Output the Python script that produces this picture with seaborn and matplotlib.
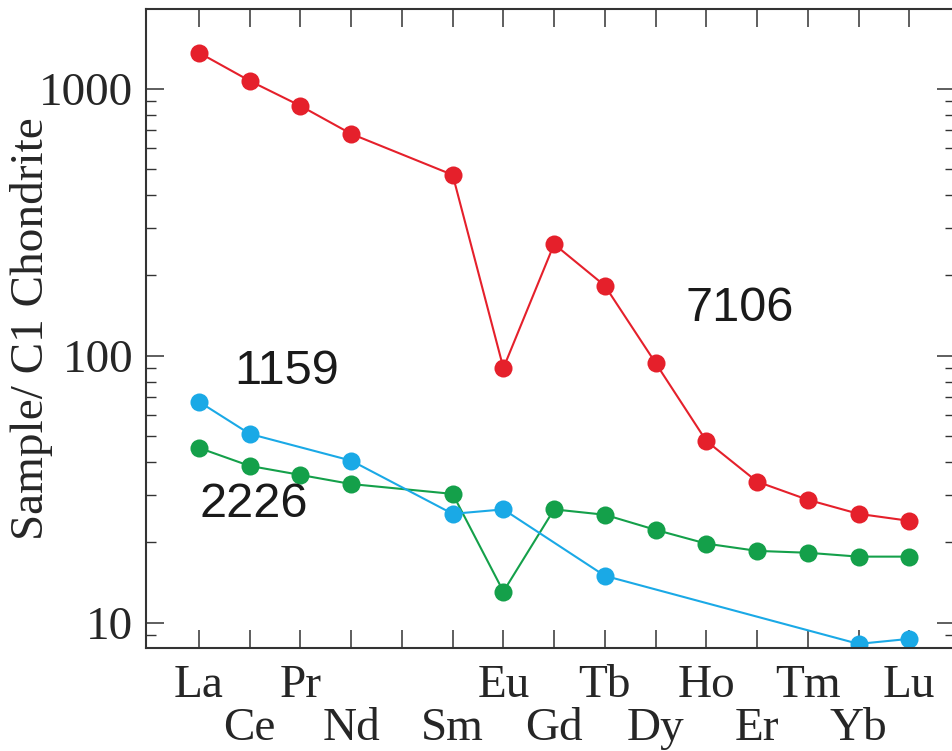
import numpy as np
import pandas as pd
import matplotlib
matplotlib.use('Agg')
import matplotlib.pyplot as plt
from matplotlib.ticker import LogLocator, NullFormatter, FixedLocator, FixedFormatter
import seaborn as sns

# REE positions (Pm left out but keeps its slot)
elements = ['La', 'Ce', 'Pr', 'Nd', 'Pm', 'Sm', 'Eu', 'Gd', 'Tb', 'Dy', 'Ho', 'Er', 'Tm', 'Yb', 'Lu']

# chondrite-normalised values (None = not plotted)
s7106 = [1365, 1071, 863, 678, None, 476, 90, 262, 183, 94, 48, 33.8, 28.9, 25.6, 24.1]
s2226 = [45.2, 38.7, 35.8, 33.1, None, 30.4, 13.1, 26.6, 25.4, 22.3, 19.8, 18.6, 18.3, 17.7, 17.7]
s1159 = [67.3, 51.0, None, 40.5, None, 25.6, 26.6, None, 15.0, None, None, None, None, 8.34, 8.71]

sample_names = ['7106', '2226', '1159']
sample_colors = ['#e5202b', '#14a04a', '#1aa9e6']

# label positions (x in element slots, y in data units)
label_x = [10.65, 1.08, 1.72]
label_y = [150, 27.7, 87]

rows = []
for name, vals in zip(sample_names, [s7106, s2226, s1159]):
    for i, v in enumerate(vals):
        if v is not None:
            rows.append({'pos': i, 'value': v, 'sample': name})
df = pd.DataFrame(rows)

sns.set_style('ticks')
plt.rcParams['font.family'] = ['Liberation Serif', 'DejaVu Serif']

fig = plt.figure(figsize=(9.53, 7.51), dpi=100)
ax = fig.add_axes([146 / 953, 1 - 648 / 751, 1 - 146 / 953 + 0.002, (648 - 9) / 751])

sns.lineplot(data=df, x='pos', y='value', hue='sample', hue_order=sample_names,
             palette=sample_colors, marker='o', markersize=13, markeredgewidth=0,
             linewidth=1.5, legend=False, ax=ax, sort=True)

ax.set_yscale('log')
ax.set_ylim(8.05, 1990)
ax.set_xlim(-1.045, 14.9)

ax.yaxis.set_minor_locator(LogLocator(base=10, subs=np.arange(2, 10), numticks=10))
ax.yaxis.set_minor_formatter(NullFormatter())
ax.set_yticks([10, 100, 1000])
ax.set_yticklabels(['10', '100', '1000'])

# upper row of element names on even slots, lower row on odd slots
even = list(range(0, len(elements), 2))
odd = list(range(1, len(elements), 2))
ax.xaxis.set_major_locator(FixedLocator(even))
ax.xaxis.set_major_formatter(FixedFormatter(['' if elements[i] == 'Pm' else elements[i] for i in even]))
ax.xaxis.set_minor_locator(FixedLocator(odd))
ax.xaxis.set_minor_formatter(FixedFormatter([elements[i] for i in odd]))

ax.set_xlabel('')
ax.set_ylabel('Sample/ C1 Chondrite', fontsize=34)
ax.yaxis.set_label_coords(-0.115, 0.5)

ax.tick_params(axis='both', which='major', direction='in', length=13, width=1.1,
               color='#333333', labelsize=34, top=True, right=True)
ax.tick_params(axis='y', which='minor', direction='in', length=7, width=1.0,
               color='#333333', right=True, left=True)
ax.tick_params(axis='x', which='minor', direction='in', length=13, width=1.1,
               color='#333333', labelsize=34, top=True, pad=43)
ax.tick_params(axis='y', which='major', pad=9)
ax.tick_params(axis='x', which='major', pad=12)
for sp in ax.spines.values():
    sp.set_linewidth(1.5)
    sp.set_color('#333333')

for name, x, y in zip(sample_names, label_x, label_y):
    ax.text(x, y, name, fontsize=35, family=['Liberation Sans', 'DejaVu Sans'],
            ha='center', va='center', color='#1a1a1a')

fig.savefig('out.png', dpi=100)
